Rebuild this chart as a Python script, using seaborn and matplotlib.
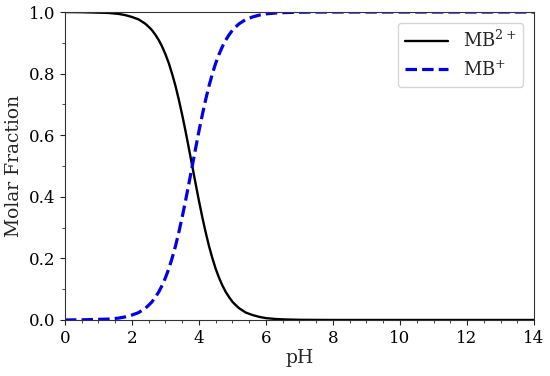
import matplotlib
matplotlib.use("Agg")
import matplotlib.pyplot as plt
from matplotlib.ticker import MultipleLocator
import seaborn as sns
import pandas as pd

# pH values and molar fractions
ph = [0.0, 0.5, 1.0, 1.3, 1.6, 1.8, 2.0, 2.2, 2.4, 2.5, 2.6, 2.7, 2.8, 2.9,
      3.0, 3.1, 3.2, 3.3, 3.4, 3.5, 3.6, 3.7, 3.8, 3.9, 4.0, 4.1, 4.2, 4.3,
      4.4, 4.5, 4.6, 4.7, 4.8, 4.9, 5.0, 5.1, 5.2, 5.3, 5.4, 5.6, 5.8, 6.0,
      6.3, 6.6, 7.0, 7.5, 8.0, 10.0, 12.0, 14.0]
mb2 = [1.000, 0.9995, 0.998, 0.997, 0.994, 0.990, 0.984, 0.976, 0.962, 0.952,
       0.941, 0.926, 0.909, 0.888, 0.863, 0.834, 0.799, 0.760, 0.715, 0.666,
       0.613, 0.557, 0.500, 0.443, 0.387, 0.334, 0.285, 0.240, 0.201, 0.166,
       0.137, 0.112, 0.091, 0.074, 0.059, 0.048, 0.038, 0.031, 0.024, 0.016,
       0.010, 0.006, 0.003, 0.0016, 0.0006, 0.0002, 0.0, 0.0, 0.0, 0.0]
mb1 = [0.000, 0.0005, 0.002, 0.003, 0.006, 0.010, 0.016, 0.024, 0.038, 0.048,
       0.059, 0.074, 0.091, 0.112, 0.137, 0.166, 0.201, 0.240, 0.285, 0.334,
       0.387, 0.443, 0.500, 0.557, 0.613, 0.666, 0.715, 0.760, 0.799, 0.834,
       0.863, 0.888, 0.909, 0.926, 0.941, 0.952, 0.962, 0.969, 0.976, 0.984,
       0.990, 0.994, 0.997, 0.9984, 0.9994, 0.9998, 1.0, 1.0, 1.0, 1.0]

df = pd.DataFrame({"pH": ph, "MB2": mb2, "MB1": mb1})

sns.set_style("ticks")
plt.rcParams["font.family"] = ["DejaVu Serif"]
plt.rcParams["mathtext.fontset"] = "dejavuserif"

fig = plt.figure(figsize=(5.5, 3.76), dpi=100)
ax = fig.add_axes([0.118, 0.149, 0.853, 0.819])

sns.lineplot(data=df, x="pH", y="MB2", ax=ax, color="black", linewidth=1.7,
             label="MB$^{2+}$")
sns.lineplot(data=df, x="pH", y="MB1", ax=ax, color="#0000ee", linewidth=2.3,
             linestyle=(0, (3.6, 1.6)), label="MB$^{+}$")

ax.set_xlim(0, 14)
ax.set_ylim(0, 1.0)
ax.xaxis.set_major_locator(MultipleLocator(2))
ax.xaxis.set_minor_locator(MultipleLocator(0.5))
ax.yaxis.set_major_locator(MultipleLocator(0.2))
ax.yaxis.set_minor_locator(MultipleLocator(0.1))
ax.tick_params(labelsize=12, colors="#222222", labelcolor="black")
ax.set_xlabel("pH", fontsize=13.5, labelpad=2)
ax.set_ylabel("Molar Fraction", fontsize=13.5)
for s in ax.spines.values():
    s.set_visible(True)
    s.set_color("#333333")

leg = ax.legend(loc="upper right", fontsize=13, frameon=True, fancybox=True,
                handlelength=2.4, borderaxespad=0.6)
leg.get_frame().set_edgecolor("#cccccc")

fig.savefig("out.png", dpi=100)
